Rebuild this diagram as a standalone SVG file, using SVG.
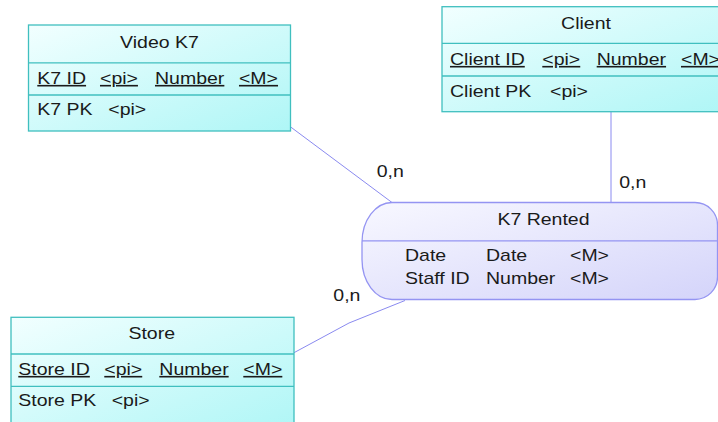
<svg xmlns="http://www.w3.org/2000/svg" width="718" height="422" viewBox="0 0 718 422">
<style>
text{font-family:"Liberation Sans",Arial,sans-serif;font-size:16px;fill:#1a1a1a}
.c{text-anchor:middle}
.u{text-decoration:underline}
.ent{fill:url(#gE);stroke:#40bfbf;stroke-width:1.3}
.div{stroke:#40bfbf;stroke-width:1.3}
.rel{fill:url(#gR);stroke:#9494f2;stroke-width:1.3}
.rdiv{stroke:#9494f2;stroke-width:1.3}
.con{fill:none;stroke:#8a8af0;stroke-width:1}
</style>
<defs>
<linearGradient id="gE" x1="0" y1="0" x2="1" y2="1">
<stop offset="0" stop-color="#f2ffff"/>
<stop offset="1" stop-color="#aef6f6"/>
</linearGradient>
<linearGradient id="gR" x1="0" y1="0" x2="1" y2="1">
<stop offset="0" stop-color="#f8f8ff"/>
<stop offset="1" stop-color="#d4d4fa"/>
</linearGradient>
</defs>
<rect width="718" height="422" fill="#ffffff"/>
<g id="connectors">
<line class="con" x1="290.7" y1="127" x2="392" y2="202.5"/>
<line class="con" x1="611" y1="112" x2="611" y2="202.5"/>
<polyline class="con" points="294,352.7 349,323 405,300.5"/>
<g transform="scale(1.22 1)">
<text x="308.77" y="177">0,n</text>
<text x="507.62" y="188.3">0,n</text>
<text x="273.2" y="300.7">0,n</text>
</g>
</g>
<g id="video-k7">
<rect class="ent" x="28.5" y="25" width="262" height="106"/>
<line class="div" x1="28.5" y1="62.8" x2="290.5" y2="62.8"/>
<line class="div" x1="28.5" y1="95" x2="290.5" y2="95"/>
<g transform="scale(1.22 1)">
<text class="c" x="130.74" y="48">Video K7</text>
<text class="u" x="30.57" y="84">K7 ID</text>
<text class="u" x="81.97" y="84">&lt;pi&gt;</text>
<text class="u" x="127.05" y="84">Number</text>
<text class="u" x="195.9" y="84">&lt;M&gt;</text>
<text x="30.57" y="115">K7 PK</text>
<text x="88.77" y="115">&lt;pi&gt;</text>
</g>
</g>
<g id="client">
<rect class="ent" x="442" y="6.7" width="292" height="105"/>
<line class="div" x1="442" y1="43.3" x2="734" y2="43.3"/>
<line class="div" x1="442" y1="76" x2="734" y2="76"/>
<g transform="scale(1.22 1)">
<text class="c" x="480.33" y="29.3">Client</text>
<text class="u" x="368.85" y="65">Client ID</text>
<text class="u" x="444.51" y="65">&lt;pi&gt;</text>
<text class="u" x="489.1" y="65">Number</text>
<text class="u" x="558.2" y="65">&lt;M&gt;</text>
<text x="368.85" y="96.7">Client PK</text>
<text x="450.82" y="96.7">&lt;pi&gt;</text>
</g>
</g>
<g id="k7-rented">
<path class="rel" d="M392,202.5 H695 A22.5 22.5 0 0 1 717.5,225 V277 A22.5 22.5 0 0 1 695,299.5 H392 A30 40 0 0 1 362,259.5 V242.5 A30 40 0 0 1 392,202.5 Z"/>
<line class="rdiv" x1="362" y1="240.8" x2="717.5" y2="240.8"/>
<g transform="scale(1.22 1)">
<text class="c" x="445.49" y="225">K7 Rented</text>
<text x="331.97" y="261">Date</text>
<text x="398.36" y="261">Date</text>
<text x="467.21" y="261">&lt;M&gt;</text>
<text x="331.97" y="284.3">Staff ID</text>
<text x="398.36" y="284.3">Number</text>
<text x="467.21" y="284.3">&lt;M&gt;</text>
</g>
</g>
<g id="store">
<rect class="ent" x="11" y="317.3" width="283" height="115"/>
<line class="div" x1="11" y1="354" x2="294" y2="354"/>
<line class="div" x1="11" y1="386.3" x2="294" y2="386.3"/>
<g transform="scale(1.22 1)">
<text class="c" x="124.34" y="339.3">Store</text>
<text class="u" x="15" y="375">Store ID</text>
<text class="u" x="85.49" y="375">&lt;pi&gt;</text>
<text class="u" x="130.57" y="375">Number</text>
<text class="u" x="199.43" y="375">&lt;M&gt;</text>
<text x="15" y="406.5">Store PK</text>
<text x="91.56" y="406.5">&lt;pi&gt;</text>
</g>
</g>
</svg>
